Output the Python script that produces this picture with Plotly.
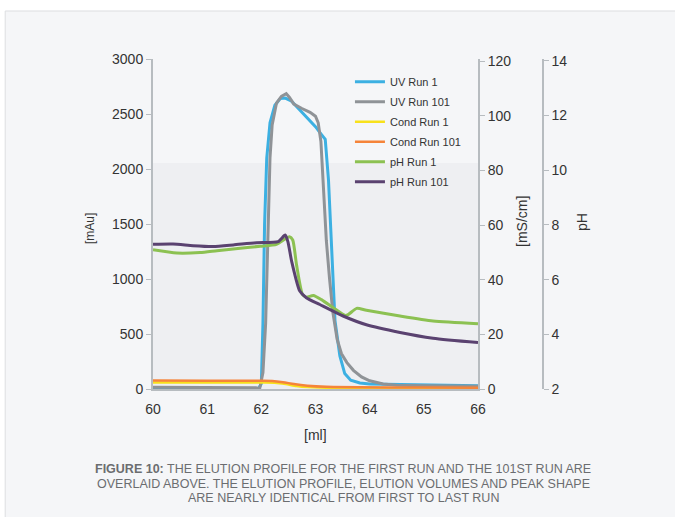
import plotly.graph_objects as go

# ---------------- data ----------------
uv1_x = [60, 61, 61.95, 62.0, 62.03, 62.06, 62.1, 62.16, 62.25, 62.35, 62.44, 62.55, 62.7, 62.85,
         63.0, 63.1, 63.18, 63.24, 63.3, 63.36, 63.45, 63.54, 63.65, 63.82, 64.0, 64.5, 65.0, 65.5, 66.0]
uv1_y = [2, 2, 2, 50, 600, 1500, 2100, 2420, 2580, 2640, 2645, 2620, 2540, 2460,
         2385, 2320, 2270, 1900, 1200, 620, 300, 140, 80, 55, 45, 40, 35, 33, 30]

uv101_x = [60, 61, 61.9, 61.97, 62.03, 62.08, 62.12, 62.16, 62.2, 62.28, 62.37, 62.46, 62.52, 62.6,
           62.75, 62.9, 63.0, 63.05, 63.1, 63.15, 63.2, 63.26, 63.32, 63.4, 63.48, 63.58, 63.7,
           63.85, 64.0, 64.25, 64.5, 65.0, 66.0]
uv101_y = [15, 15, 12, 5, 150, 600, 1500, 2100, 2400, 2600, 2660, 2685, 2650, 2590,
           2550, 2515, 2480, 2420, 2250, 1800, 1350, 1000, 700, 450, 320, 240, 170,
           110, 75, 45, 35, 30, 25]

cond1_x = [60, 61, 62, 62.25, 62.45, 62.65, 62.85, 63.2, 63.8, 65, 66]
cond1_y = [2.4, 2.4, 2.35, 2.3, 1.8, 1.1, 0.7, 0.5, 0.35, 0.3, 0.25]

cond101_x = [60, 61, 62, 62.2, 62.4, 62.6, 62.85, 63.2, 63.8, 65, 66]
cond101_y = [3.1, 3.05, 3.0, 2.95, 2.5, 1.8, 1.2, 0.8, 0.65, 0.55, 0.5]

ph1_x = [60.0, 60.44, 60.87, 61.18, 61.61, 61.98, 62.28, 62.44, 62.52, 62.58, 62.65, 62.76, 62.83,
         62.96, 63.11, 63.33, 63.55, 63.61, 63.76, 63.94, 64.56, 65.17, 66.0]
ph1_y = [7.09, 6.97, 6.99, 7.06, 7.15, 7.22, 7.29, 7.49, 7.57, 7.45, 6.54, 5.46, 5.36,
         5.42, 5.27, 4.97, 4.69, 4.73, 4.95, 4.88, 4.67, 4.49, 4.39]

ph101_x = [60.0, 60.37, 60.74, 61.11, 61.48, 61.91, 62.31, 62.44, 62.49, 62.56, 62.71, 62.83,
           63.08, 63.51, 63.94, 64.56, 65.17, 66.0]
ph101_y = [7.29, 7.30, 7.24, 7.21, 7.27, 7.35, 7.39, 7.63, 7.39, 6.67, 5.58, 5.34,
           5.09, 4.67, 4.35, 4.07, 3.86, 3.70]

x_ticks = [60, 61, 62, 63, 64, 65, 66]
uv_ticks = [0, 500, 1000, 1500, 2000, 2500, 3000]
cond_ticks = [0, 20, 40, 60, 80, 100, 120]
ph_ticks = [2, 4, 6, 8, 10, 12, 14]

caption_lines = [
    "<b>FIGURE 10:</b> THE ELUTION PROFILE FOR THE FIRST RUN AND THE 101ST RUN ARE",
    "OVERLAID ABOVE. THE ELUTION PROFILE, ELUTION VOLUMES AND PEAK SHAPE",
    "ARE NEARLY IDENTICAL FROM FIRST TO LAST RUN",
]

# ---------------- figure ----------------
fig = go.Figure()
FONT = "Liberation Sans, Arial, sans-serif"


def add(x, y, name, color, width, axis, shape="linear"):
    fig.add_trace(go.Scatter(x=x, y=y, name=name, mode="lines", yaxis=axis,
                             line=dict(color=color, width=width, shape=shape,
                                       smoothing=0.6 if shape == "spline" else None),
                             legendgroup=name, hoverinfo="skip"))


add(uv1_x, uv1_y, "UV Run 1", "#3cb0e2", 3, "y")
add(uv101_x, uv101_y, "UV Run 101", "#8f9397", 3, "y")
add(cond1_x, cond1_y, "Cond Run 1", "#f8e11c", 2.5, "y2", "spline")
add(cond101_x, cond101_y, "Cond Run 101", "#f5843a", 2.5, "y2", "spline")
add(ph1_x, ph1_y, "pH Run 1", "#8cc152", 3, "y3", "spline")
add(ph101_x, ph101_y, "pH Run 101", "#5a4270", 3, "y3", "spline")

AX = "#b7bcc0"
TXT = "#333333"

fig.update_layout(
    width=675, height=517,
    margin=dict(l=153, r=132, t=59, b=128, pad=0),
    paper_bgcolor="white",
    plot_bgcolor="rgba(0,0,0,0)",
    font=dict(family=FONT, color=TXT, size=14),
    showlegend=True,
    legend=dict(x=0.505, y=0.975, xanchor="left", yanchor="top",
                bgcolor="rgba(0,0,0,0)", font=dict(family=FONT, size=11, color=TXT),
                tracegroupgap=1, itemwidth=30),
    xaxis=dict(range=[60, 66], domain=[0, 0.8333], tickvals=x_ticks,
               showline=True, linecolor=AX, linewidth=1.5,
               ticks="outside", ticklen=6, tickcolor="rgba(0,0,0,0)",
               showgrid=False, zeroline=False, tickfont=dict(size=14, color=TXT)),
    yaxis=dict(range=[0, 3000], tickvals=uv_ticks, showline=True, linecolor=AX,
               linewidth=2, ticks="outside", ticklen=5, tickcolor=AX,
               showgrid=False, zeroline=False, tickfont=dict(size=14, color=TXT)),
    yaxis2=dict(range=[0, 120.73], tickvals=cond_ticks, overlaying="y", side="right",
                anchor="x", showline=True, linecolor=AX, linewidth=2,
                ticks="outside", ticklen=5, tickcolor=AX, showgrid=False,
                zeroline=False, tickfont=dict(size=14, color=TXT)),
    yaxis3=dict(range=[2, 14.07], tickvals=ph_ticks, overlaying="y", side="right",
                anchor="free", position=1.0, showline=True, linecolor=AX,
                linewidth=1.5, ticks="outside", ticklen=5, tickcolor=AX,
                showgrid=False, zeroline=False, tickfont=dict(size=14, color=TXT)),
)

# background panel and shaded region
fig.add_shape(type="rect", xref="paper", yref="paper", x0=-0.379, x1=1.5,
              y0=-0.6, y1=1.1455, fillcolor="#f5f6f8",
              line=dict(color="#dcdee1", width=1), layer="below")
fig.add_shape(type="rect", xref="x", yref="y", x0=60, x1=66, y0=0, y1=2055,
              fillcolor="#eeeff2", line=dict(width=0), layer="below")


def px_x(p):
    return (p - 153) / 390


def px_y(p):
    return (389 - p) / 330


# axis titles
def title(text, x, y, size, angle=0):
    fig.add_annotation(text=text, xref="paper", yref="paper", x=px_x(x), y=px_y(y),
                       xanchor="center", yanchor="middle", textangle=angle,
                       showarrow=False, font=dict(family=FONT, size=size, color=TXT))


title("[mAu]", 90, 229, 12, -90)
title("[mS/cm]", 522, 222, 14, -90)
title("pH", 582, 222, 14, -90)
title("[ml]", 315, 435, 14)

# caption
cap_y = [469, 483.5, 498]
for line, py in zip(caption_lines, cap_y):
    fig.add_annotation(text=line, xref="paper", yref="paper",
                       x=px_x(343), y=px_y(py),
                       xanchor="center", yanchor="middle", showarrow=False,
                       font=dict(family=FONT, size=12.5, color="#6b6d70"))

fig.write_html("out.html")
